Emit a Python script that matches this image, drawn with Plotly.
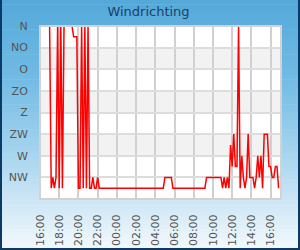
import plotly.graph_objects as go
import pandas as pd

# ---- data (10-minute samples, 17:00 .. 16:50 next day), direction in degrees ----
start_time = "2024-01-01 17:00"
directions = [
    0, 337.5, 315, 337.5, 315, 0, 337.5, 0, 337.5, 0,
    0, 0, 0, 0, 0, 22.5, 22.5, 22.5, 337.5, 337.5,
    0, 337.5, 0, 337.5, 0, 337.5, 337.5, 315, 337.5, 337.5,
    315, 337.5, 337.5, 337.5, 337.5, 337.5, 337.5, 337.5, 337.5, 337.5,
    337.5, 337.5, 337.5, 337.5, 337.5, 337.5, 337.5, 337.5, 337.5, 337.5,
    337.5, 337.5, 337.5, 337.5, 337.5, 337.5, 337.5, 337.5, 337.5, 337.5,
    337.5, 337.5, 337.5, 337.5, 337.5, 337.5, 337.5, 337.5, 337.5, 337.5,
    337.5, 337.5, 315, 315, 315, 315, 315, 337.5, 337.5, 337.5,
    337.5, 337.5, 337.5, 337.5, 337.5, 337.5, 337.5, 337.5, 337.5, 337.5,
    337.5, 337.5, 337.5, 337.5, 337.5, 337.5, 337.5, 337.5, 315, 315,
    315, 315, 315, 315, 315, 315, 315, 315, 337.5, 315,
    337.5, 315, 337.5, 247.5, 292.5, 225, 292.5, 292.5, 0, 337.5,
    270, 315, 337.5, 315, 225, 315, 315, 315, 337.5, 315,
    270, 315, 270, 337.5, 225, 225, 225, 292.5, 292.5, 315,
    315, 292.5, 292.5, 337.5,
]
times = pd.date_range(start_time, periods=len(directions), freq="10min")

category_angles = [0, 45, 90, 135, 180, 225, 270, 315]
category_labels = ["N", "NO", "O", "ZO", "Z", "ZW", "W", "NW"]
band_ranges = [(45, 90), (135, 180), (225, 270)]

x_range = ["2024-01-01 16:00", "2024-01-02 17:05"]
title_text = "Windrichting"

# ---- figure ----
fig = go.Figure()
fig.add_trace(go.Scatter(
    x=times, y=directions, mode="lines",
    line=dict(color="#ff0000", width=1.5),
    hoverinfo="skip", showlegend=False,
))

shapes = []
stops = [(0.0, (84, 169, 218)), (0.3, (112, 186, 228)), (0.6, (163, 211, 238)),
         (0.8, (205, 230, 245)), (1.0, (243, 249, 252))]
W, H = 300, 250
ml, mr, mt, mb = 40, 19, 26, 51
plot_w = W - ml - mr
plot_h = H - mt - mb
n = 60

def col_at(f):
    for (f0, c0), (f1, c1) in zip(stops[:-1], stops[1:]):
        if f0 <= f <= f1:
            t = (f - f0) / (f1 - f0)
            return "rgb(%d,%d,%d)" % tuple(round(a + (b - a) * t) for a, b in zip(c0, c1))
    return "rgb(%d,%d,%d)" % stops[-1][1]

def py(px):  # pixel row -> paper y
    return (H - mb - px) / plot_h

def pxx(px):  # pixel column -> paper x
    return (px - ml) / plot_w

for k in range(n):
    y0px = H * k / n
    y1px = H * (k + 1) / n + 0.6
    shapes.append(dict(
        type="rect", xref="paper", yref="paper", layer="below",
        x0=-1, x1=2, y0=py(y1px), y1=py(y0px),
        fillcolor=col_at((k + 0.5) / n), line=dict(width=0),
    ))
# white plot area on top of the gradient
shapes.append(dict(type="rect", xref="paper", yref="paper", layer="below",
                   x0=0, x1=1, y0=0, y1=1, fillcolor="#ffffff", line=dict(width=0)))

# alternate bands in plot area
for a, b in band_ranges:
    shapes.append(dict(type="rect", xref="paper", yref="y", layer="below",
                       x0=0, x1=1, y0=a, y1=b, fillcolor="#f2f2f2", line=dict(width=0)))

# plot border drawn over the series (hides runs along the edge)
shapes.append(dict(type="rect", xref="paper", yref="paper", layer="above",
                   x0=0, x1=1, y0=0, y1=1,
                   fillcolor="rgba(0,0,0,0)", line=dict(color="#d2d2d2", width=2)))

# dark card border
shapes.append(dict(type="rect", xref="paper", yref="paper", layer="above",
                   x0=pxx(1), x1=pxx(299), y0=py(249), y1=py(-5),
                   fillcolor="rgba(0,0,0,0)", line=dict(color="#0c3a66", width=2)))

fig.update_layout(
    width=W, height=H,
    margin=dict(l=ml, r=mr, t=mt, b=mb, pad=0, autoexpand=False),
    paper_bgcolor="#ffffff",
    plot_bgcolor="#ffffff",
    shapes=shapes,
    title=dict(text=title_text, x=0.495, xref="container", xanchor="center",
               y=1 - 11 / H, yref="container", yanchor="middle",
               font=dict(family="DejaVu Sans", size=13, color="#1c3f66")),
    font=dict(family="DejaVu Sans", size=11, color="#555555"),
)

fig.update_xaxes(
    type="date", range=x_range, automargin=False,
    dtick=2 * 3600 * 1000, tick0="2024-01-01 16:00", tickformat="%H:%M",
    tickangle=-90, ticks="outside", ticklen=10, tickcolor="rgba(0,0,0,0)",
    showgrid=True, gridcolor="#d0d0d0", gridwidth=1.5,
    showline=False, zeroline=False, tickfont=dict(size=11, color="#555555"),
)
fig.update_yaxes(
    range=[360, 0], tickvals=category_angles, ticktext=category_labels,
    automargin=False,
    ticks="outside", ticklen=9, tickcolor="rgba(0,0,0,0)",
    showgrid=True, gridcolor="#dddddd", gridwidth=1.5,
    showline=False, zeroline=False, tickfont=dict(size=11, color="#555555"),
)

fig.write_html("out.html")
